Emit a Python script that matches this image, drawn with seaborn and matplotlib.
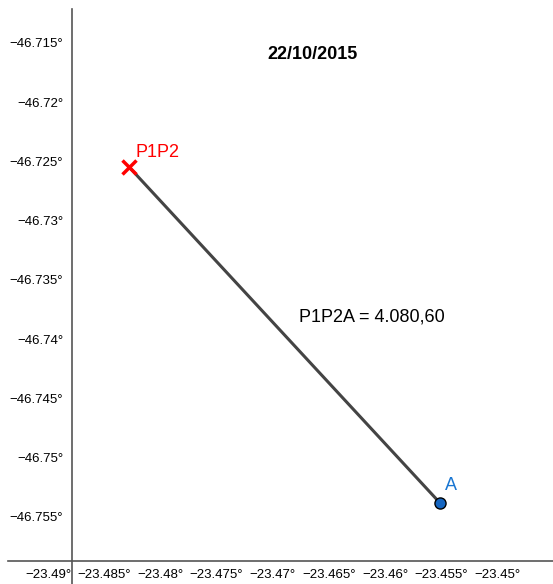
import matplotlib
matplotlib.use("Agg")
import matplotlib.pyplot as plt
import numpy as np
import pandas as pd
import seaborn as sns
from matplotlib.ticker import FuncFormatter

# points as drawn on the plane
point_names = ["P1P2", "A"]
point_x = [-23.48279, -23.45512]
point_y = [-46.72547, -46.75385]
title_text = "22/10/2015"
segment_label = "P1P2A = 4.080,60"
x_ticks = [-23.49, -23.485, -23.48, -23.475, -23.47, -23.465, -23.46, -23.455, -23.45]
y_ticks = [-46.755, -46.75, -46.745, -46.74, -46.735, -46.73, -46.725, -46.72, -46.715]

sns.set_style("white")
plt.rcParams['font.family'] = ['Liberation Sans', 'DejaVu Sans']

fig = plt.figure(figsize=(5.53, 5.84), dpi=100)
ax = fig.add_axes([8 / 553, 0, 1 - 8 / 553, 1 - 9 / 584])

df = pd.DataFrame({"x": point_x, "y": point_y, "name": point_names})
sns.lineplot(data=df, x="x", y="y", ax=ax, color="#444444", linewidth=2.2,
             sort=False, estimator=None)
ax.plot(point_x[0], point_y[0], marker="x", color="red", markersize=10,
        markeredgewidth=2.5, zorder=5)
sns.scatterplot(x=[point_x[1]], y=[point_y[1]], ax=ax, s=64, color="#1565c0",
                edgecolor="black", linewidth=1, zorder=5)

ax.text(-23.48226, -46.72421, point_names[0], color="red", fontsize=13,
        va="center")
ax.text(-23.45468, -46.75233, point_names[1], color="#1976d2", fontsize=13,
        va="center")
ax.text(-23.46767, -46.73814, segment_label, fontsize=13, color="black",
        va="center")
ax.text(-23.46651, -46.71601, title_text, fontsize=13, fontweight="bold",
        color="black", ha="center", va="center")

ax.set_xlim(-23.49356, -23.44507)
ax.set_ylim(-46.76069, -46.71213)
ax.set_xticks(x_ticks)
ax.set_yticks(y_ticks)


def deg(v, pos):
    return f"{round(v, 4):g}°".replace("-", "\u2212")


ax.xaxis.set_major_formatter(FuncFormatter(deg))
ax.yaxis.set_major_formatter(FuncFormatter(deg))

for s in ["top", "right"]:
    ax.spines[s].set_visible(False)
ax.spines["left"].set_position(("data", -23.4879))
ax.spines["bottom"].set_position(("data", -46.75875))
for s in ["left", "bottom"]:
    ax.spines[s].set_color("#555555")
    ax.spines[s].set_linewidth(1.2)

ax.tick_params(axis="both", labelsize=9.5, colors="#555555", labelcolor="black",
               length=4, width=1)
ax.tick_params(axis="x", direction="in", pad=6)
ax.tick_params(axis="y", direction="out", pad=2)
ax.set_xlabel("")
ax.set_ylabel("")

fig.savefig("out.png", dpi=100)
